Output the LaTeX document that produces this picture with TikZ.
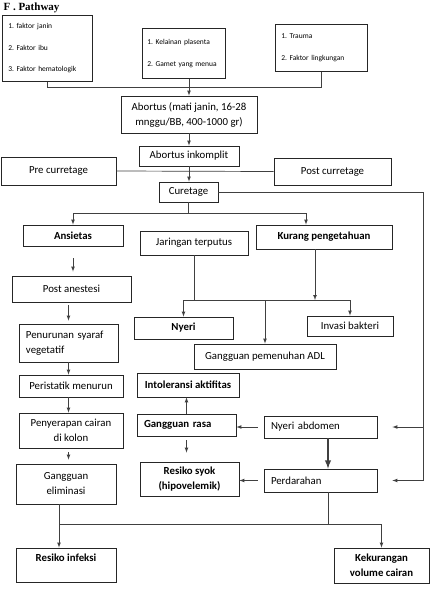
\documentclass[tikz,border=0pt]{standalone}
\usepackage{fontspec}
\setmainfont{Carlito}
\newfontfamily\titlefont{Liberation Serif}
\usepackage{tikz}
\usetikzlibrary{arrows}
\frenchspacing

\begin{document}
\begin{tikzpicture}[x=1pt, y=-1pt,
			pbox/.style={draw=black!85, line width=0.8pt, align=center, inner sep=0pt, font=\fontsize{10.8}{15}\selectfont},
			lpbox/.style={pbox, align=left, inner xsep=7pt},
			bpbox/.style={pbox, font=\fontsize{10.8}{15}\selectfont\bfseries},
			fctbox/.style={draw=black!85, line width=0.8pt, align=left, anchor=north west, inner xsep=6pt, inner ysep=0pt, font=\fontsize{7.5}{21.5}\selectfont},
			conn/.style={black!75, line width=0.7pt},
			arr/.style={conn, -latex}]
			\useasboundingbox (0,0) rectangle (430,614);
			\node[anchor=base west, font=\titlefont\fontsize{11}{13}\selectfont\bfseries] (title) at (0,10) {F . Pathway};
			\node[fctbox, text width=78pt, minimum height=66pt] (f1) at (2,15) {1. faktor janin\\2. Faktor ibu\\3. Faktor hematologik};
			\node[fctbox, text width=73pt, inner xsep=5pt, minimum height=50pt] (f2) at (142,28) {1. Kelainan plasenta\\2. Gamet yang menua};
			\node[fctbox, text width=80pt, minimum height=47pt] (f3) at (275,24) {1. Trauma\\2. Faktor lingkungan};
			\node[pbox, minimum width=136pt, minimum height=37pt] (ab) at (189,114.5) {Abortus (mati janin, 16-28\\mnggu/BB, 400-1000 gr)};
			\node[pbox, minimum width=100pt, minimum height=20pt] (ink) at (189,156) {Abortus inkomplit};
			\node[pbox, minimum width=115pt, minimum height=28pt] (pre) at (58.5,171) {Pre curretage};
			\node[pbox, minimum width=117pt, minimum height=27pt] (post) at (332.5,171.5) {Post curretage};
			\node[pbox, minimum width=59pt, minimum height=20pt] (cur) at (188.5,192) {Curetage};
			\node[bpbox, minimum width=100pt, minimum height=21pt] (ans) at (73,235.5) {Ansietas};
			\node[pbox, minimum width=108pt, minimum height=24pt] (jar) at (194,243) {Jaringan terputus};
			\node[bpbox, minimum width=136pt, minimum height=24pt] (kur) at (324,237) {Kurang pengetahuan};
			\node[pbox, minimum width=119pt, minimum height=26pt] (pan) at (71.5,289) {Post anestesi};
			\node[lpbox, text width=85pt, minimum height=38pt] (pen) at (68.5,343) {Penurunan syaraf\\vegetatif};
			\node[pbox, minimum width=104pt, minimum height=22pt] (per) at (71,386) {Peristatik menurun};
			\node[pbox, minimum width=104pt, minimum height=35pt] (pny) at (71,430.5) {Penyerapan cairan\\di kolon};
			\node[pbox, minimum width=100pt, minimum height=40pt] (gel) at (66,484) {Gangguan\\eliminasi};
			\node[bpbox, minimum width=100pt, minimum height=34pt] (rin) at (66,565) {Resiko infeksi\\\mbox{}};
			\node[bpbox, minimum width=99pt, minimum height=22pt] (nye) at (183.5,328) {Nyeri};
			\node[pbox, minimum width=86pt, minimum height=20pt] (inv) at (350,326) {Invasi bakteri};
			\node[pbox, minimum width=142pt, minimum height=25pt] (adl) at (265,356.5) {Gangguan pemenuhan ADL};
			\node[bpbox, minimum width=102pt, minimum height=24pt] (int) at (188,385) {Intoleransi aktifitas};
			\node[bpbox, align=left, inner xsep=7pt, text width=85pt, minimum height=22pt] (gra) at (186.5,425) {Gangguan rasa};
			\node[lpbox, text width=99pt, minimum height=22pt] (nab) at (320.5,427) {Nyeri abdomen};
			\node[bpbox, minimum width=99pt, minimum height=34pt] (syo) at (189.5,479) {Resiko syok\\(hipovelemik)};
			\node[lpbox, text width=99pt, minimum height=23pt] (prd) at (320.5,480.5) {Perdarahan};
			\node[bpbox, minimum width=95pt, minimum height=35pt] (kek) at (381.5,565.5) {Kekurangan\\volume cairan};
			\coordinate (jtop) at (0,87);
			\coordinate (jcur) at (0,213);
			\coordinate (jjar) at (0,300);
			\coordinate (jbot) at (59,524);
			\coordinate (rside) at (423,0);
			\coordinate (jprd) at (328,0);
			\draw[conn] (f1.south) |- (f3.south |- jtop) -- (f3.south);
			\draw[arr] (ab.north |- f2.south) -- (ab.north);
			\draw[arr] (ab.south) -- (ink.north);
			\draw[conn] (pre.east) -- (post.west);
			\draw[arr] (ink.south) -- (ink.south |- cur.north);
			\draw[conn] (cur.east) -| (rside |- prd.east);
			\draw[arr, shorten >=15pt] (rside |- nab.east) -- (nab.east);
			\draw[arr, shorten >=15pt] (rside |- prd.east) -- (prd.east);
			\draw[conn] (cur.south) -- (cur.south |- jcur);
			\draw[arr] (cur.south |- jcur) -| (ans.north);
			\draw[arr] (cur.south |- jcur) -| ([xshift=-18pt]kur.north);
			\draw[arr, shorten <=12pt, shorten >=4pt] (ans.south) -- (ans.south |- pan.north);
			\draw[arr, shorten <=3pt, shorten >=3pt] (pan.south -| pen.north) -- (pen.north);
			\draw[arr] (pen.south) -- (pen.south |- per.north);
			\draw[arr] (pen.south |- per.south) -- (pen.south |- pny.north);
			\draw[arr, shorten <=4pt, shorten >=4pt] (pen.south |- pny.south) -- (pen.south |- gel.north);
			\draw[conn] (jbot |- gel.south) -- (jbot);
			\draw[arr] (jbot) -- (jbot |- rin.north);
			\draw[arr] (jbot) -| (kek.north);
			\draw[conn] (jprd |- prd.south) -- (jprd |- jbot);
			\draw[conn] (jar.south) -- (jar.south |- jjar);
			\draw[arr] (jar.south |- jjar) -| (nye.north);
			\draw[arr] (jar.south |- jjar) -| (adl.north);
			\draw[arr] (adl.north |- jjar) -| (inv.north);
			\draw[arr] ([xshift=-9pt]kur.south) -- ([xshift=-9pt]kur.south |- jjar);
			\draw[arr] (gra.north) -- (gra.north |- int.south);
			\draw[arr, shorten <=6pt] (nab.west) -- (nab.west -| gra.east);
			\draw[arr, shorten <=4pt, shorten >=9pt] (gra.south) -- (gra.south |- syo.north);
			\draw[conn, line width=1.8pt, -latex] (jprd |- nab.south) -- (jprd |- prd.north);
			\draw[arr, shorten <=6pt] (prd.west) -- (prd.west -| syo.east);
		\end{tikzpicture}
\end{document}
